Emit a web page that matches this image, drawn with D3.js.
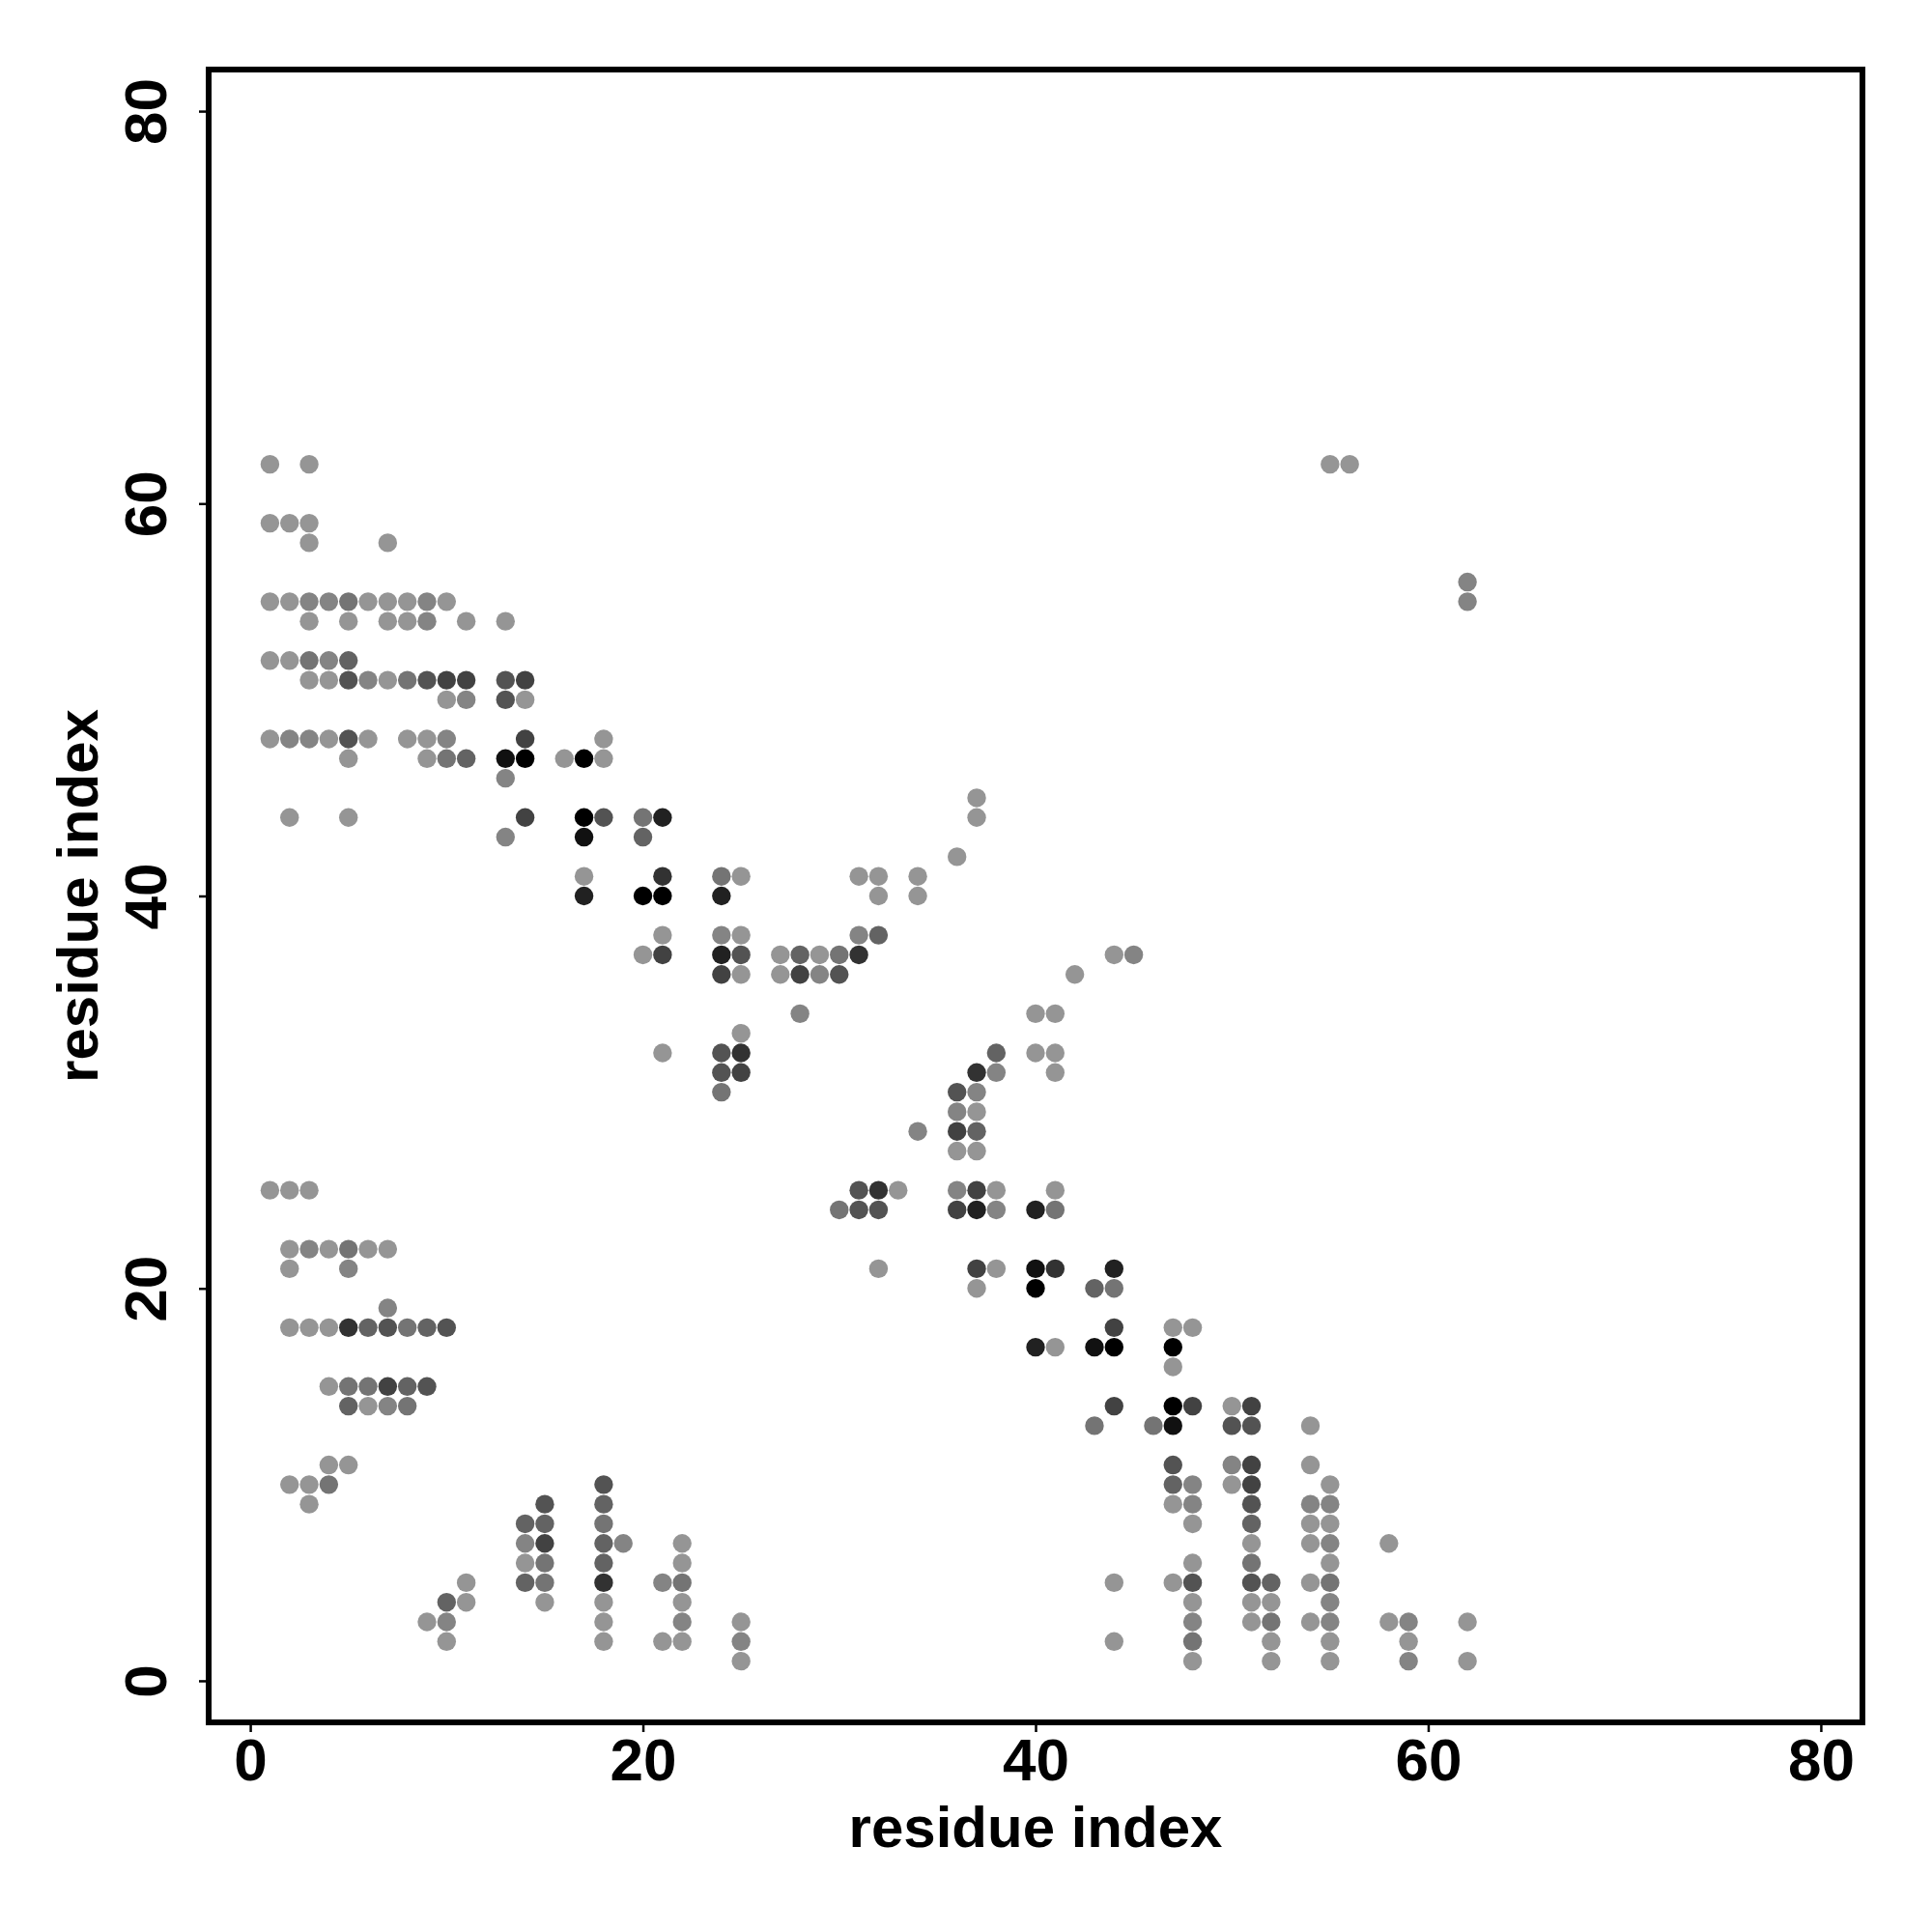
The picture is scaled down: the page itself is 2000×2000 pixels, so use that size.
<!DOCTYPE html>
<html>
<head>
<meta charset="utf-8">
<script src="https://cdn.jsdelivr.net/npm/d3@7"></script>
<style>
html,body{margin:0;padding:0;background:#fff;}
text{font-family:"Liberation Sans",Arial,Helvetica,sans-serif;font-weight:bold;}
</style>
</head>
<body>
<svg id="chart" width="2000" height="2000"></svg>
<script>
// Axis ticks
const xTicks = [0, 20, 40, 60, 80];
const yTicks = [0, 20, 40, 60, 80];
const xLabel = "residue index";
const yLabel = "residue index";

// contacts: [residue i, residue j, strength level 0 (weak) .. 9 (strong)]
const contacts = [
  [1,62,0],[3,62,0],[55,62,0],[56,62,0],
  [1,59,0],[2,59,0],[3,59,0],
  [3,58,0],[7,58,0],
  [62,56,1],[62,55,1],
  [1,55,0],[2,55,0],[3,55,1],[4,55,1],[5,55,2],[6,55,0],[7,55,0],[8,55,0],[9,55,1],[10,55,0],
  [3,54,0],[5,54,0],[7,54,0],[8,54,0],[9,54,1],[11,54,0],[13,54,0],
  [1,52,0],[2,52,0],[3,52,2],[4,52,1],[5,52,3],
  [3,51,0],[4,51,0],[5,51,4],[6,51,1],[7,51,0],[8,51,2],[9,51,4],[10,51,5],[11,51,5],[13,51,4],[14,51,5],
  [10,50,0],[11,50,1],[13,50,4],[14,50,0],
  [1,48,0],[2,48,1],[3,48,1],[4,48,0],[5,48,4],[6,48,0],[8,48,0],[9,48,0],[10,48,1],[14,48,5],[18,48,0],
  [5,47,0],[9,47,0],[10,47,2],[11,47,3],[13,47,8],[14,47,9],[16,47,0],[17,47,9],[18,47,0],
  [13,46,1],
  [37,45,0],
  [2,44,0],[5,44,0],[14,44,5],[17,44,9],[18,44,4],[20,44,2],[21,44,7],[37,44,0],
  [13,43,1],[17,43,8],[20,43,3],
  [36,42,0],
  [17,41,0],[21,41,6],[24,41,2],[25,41,0],[31,41,0],[32,41,0],[34,41,0],
  [17,40,7],[20,40,9],[21,40,9],[24,40,7],[32,40,0],[34,40,0],
  [21,38,0],[24,38,1],[25,38,0],[31,38,1],[32,38,3],
  [20,37,0],[21,37,5],[24,37,7],[25,37,4],[27,37,0],[28,37,3],[29,37,0],[30,37,2],[31,37,6],[44,37,0],[45,37,1],
  [24,36,5],[25,36,0],[27,36,0],[28,36,5],[29,36,1],[30,36,4],[42,36,0],
  [28,34,1],[40,34,0],[41,34,0],
  [25,33,0],
  [21,32,0],[24,32,4],[25,32,6],[38,32,3],[40,32,0],[41,32,0],
  [24,31,4],[25,31,5],[37,31,6],[38,31,1],[41,31,0],
  [24,30,2],[36,30,4],[37,30,1],
  [36,29,1],[37,29,0],
  [34,28,1],[36,28,5],[37,28,3],
  [36,27,0],[37,27,0],
  [1,25,0],[2,25,0],[3,25,0],[31,25,4],[32,25,6],[33,25,0],[36,25,1],[37,25,5],[38,25,0],[41,25,0],
  [30,24,2],[31,24,4],[32,24,4],[36,24,5],[37,24,7],[38,24,1],[40,24,7],[41,24,2],
  [2,22,0],[3,22,1],[4,22,0],[5,22,2],[6,22,0],[7,22,0],
  [2,21,0],[5,21,1],[32,21,0],[37,21,5],[38,21,0],[40,21,8],[41,21,6],[44,21,7],
  [37,20,0],[40,20,9],[43,20,3],[44,20,2],
  [7,19,1],
  [2,18,0],[3,18,0],[4,18,0],[5,18,6],[6,18,3],[7,18,4],[8,18,2],[9,18,3],[10,18,4],[44,18,5],[47,18,0],[48,18,0],
  [40,17,7],[41,17,0],[43,17,8],[44,17,9],[47,17,9],
  [47,16,0],
  [4,15,0],[5,15,2],[6,15,2],[7,15,5],[8,15,3],[9,15,4],
  [5,14,3],[6,14,0],[7,14,1],[8,14,2],[44,14,5],[47,14,9],[48,14,5],[50,14,0],[51,14,5],
  [43,13,2],[46,13,2],[47,13,8],[50,13,4],[51,13,4],[54,13,0],
  [4,11,0],[5,11,0],[47,11,4],[50,11,1],[51,11,5],[54,11,0],
  [2,10,0],[3,10,0],[4,10,2],[18,10,4],[47,10,3],[48,10,1],[50,10,0],[51,10,5],[55,10,0],
  [3,9,0],[15,9,4],[18,9,3],[47,9,0],[48,9,1],[51,9,4],[54,9,1],[55,9,1],
  [14,8,3],[15,8,3],[18,8,2],[48,8,0],[51,8,3],[54,8,0],[55,8,0],
  [14,7,1],[15,7,5],[18,7,3],[19,7,1],[22,7,0],[51,7,0],[54,7,0],[55,7,1],[58,7,0],
  [14,6,0],[15,6,2],[18,6,3],[22,6,0],[48,6,0],[51,6,2],[55,6,0],
  [11,5,0],[14,5,3],[15,5,2],[18,5,6],[21,5,1],[22,5,2],[44,5,0],[47,5,0],[48,5,4],[51,5,4],[52,5,3],[54,5,0],[55,5,2],
  [10,4,3],[11,4,0],[15,4,0],[18,4,0],[22,4,0],[48,4,0],[51,4,0],[52,4,0],[55,4,1],
  [9,3,0],[10,3,1],[18,3,0],[22,3,1],[25,3,0],[48,3,1],[51,3,0],[52,3,2],[54,3,0],[55,3,1],[58,3,0],[59,3,1],[62,3,0],
  [10,2,0],[18,2,0],[21,2,0],[22,2,0],[25,2,1],[44,2,0],[48,2,2],[52,2,0],[55,2,0],[59,2,0],
  [25,1,0],[48,1,0],[52,1,0],[55,1,0],[59,1,1],[62,1,0]
];

const svg = d3.select("#chart");
const plotL = 216, plotR = 1928, plotT = 72, plotB = 1783;
const x = d3.scaleLinear().domain([-2.12, 82.12]).range([plotL, plotR]);
const y = d3.scaleLinear().domain([-2.12, 82.12]).range([plotB, plotT]);
const shade = d3.scaleLinear().domain([0, 9]).range(["#959595", "#000000"]);

// points
svg.append("g").selectAll("circle").data(contacts).join("circle")
  .attr("cx", d => x(d[0]))
  .attr("cy", d => y(d[1]))
  .attr("r", 9.7)
  .attr("fill", d => shade(d[2]));

// x axis
const xAxis = svg.append("g").attr("transform", `translate(0,${plotB})`)
  .call(d3.axisBottom(x).tickValues(xTicks).tickSize(10).tickPadding(12));
xAxis.select(".domain").remove();
xAxis.selectAll(".tick line").attr("stroke", "#000").attr("stroke-width", 2.5);
xAxis.selectAll(".tick text").attr("font-size", 62).attr("fill", "#000")
  .attr("dy", null).attr("y", 60);

// y axis
const yAxis = svg.append("g").attr("transform", `translate(${plotL},0)`)
  .call(d3.axisLeft(y).tickValues(yTicks).tickSize(10).tickPadding(12));
yAxis.select(".domain").remove();
yAxis.selectAll(".tick line").attr("stroke", "#000").attr("stroke-width", 2.5);
yAxis.selectAll(".tick text").attr("font-size", 62).attr("fill", "#000")
  .attr("x", null).attr("dy", null)
  .attr("text-anchor", "middle")
  .attr("transform", "translate(-44,0) rotate(-90)");

// frame
svg.append("rect").attr("x", plotL).attr("y", plotT)
  .attr("width", plotR - plotL).attr("height", plotB - plotT)
  .attr("fill", "none").attr("stroke", "#000").attr("stroke-width", 6);

// axis titles
svg.append("text").attr("x", (plotL + plotR) / 2).attr("y", 1912)
  .attr("text-anchor", "middle").attr("font-size", 60).attr("fill", "#000").text(xLabel);
svg.append("text").attr("transform", `translate(101,${(plotT + plotB) / 2}) rotate(-90)`)
  .attr("text-anchor", "middle").attr("font-size", 60).attr("fill", "#000").text(yLabel);
</script>
</body>
</html>
